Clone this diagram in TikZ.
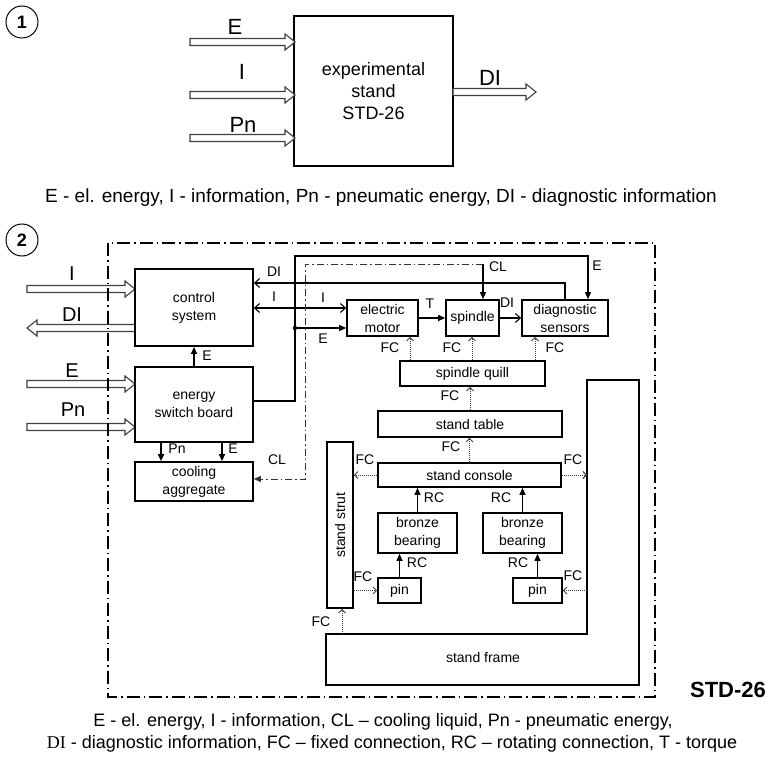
\documentclass[tikz,border=0pt]{standalone}
\usepackage{fontspec}
\setmainfont{Liberation Sans}
\newfontfamily\serifdi{Liberation Serif}
\usetikzlibrary{arrows.meta}
\newcommand{\harrow}[4]{%
  \draw[hollow] (#1,#4-3.5) -- (#2,#4-3.5) -- (#2,#4-8) -- (#3,#4) -- (#2,#4+8) -- (#2,#4+3.5) -- (#1,#4+3.5) -- cycle;}
\begin{document}
\begin{tikzpicture}[x=1pt,y=-1pt,
  box/.style={draw, line width=1.7pt, inner sep=0pt, align=center, font=\fontsize{14}{18}\selectfont},
  lbl/.style={inner sep=0pt, font=\fontsize{14}{16}\selectfont},
  mid/.style={inner sep=0pt, font=\fontsize{20}{22}\selectfont},
  big/.style={inner sep=0pt, font=\fontsize{22}{24}\selectfont},
  circ/.style={draw, circle, line width=1pt, minimum size=32pt, inner sep=0pt, font=\bfseries\fontsize{18}{18}\selectfont},
  farrow/.style={line width=1.1pt, -{Triangle[length=7pt,width=6pt]}},
  oarrow/.style={line width=1.1pt, -{Straight Barb[length=5pt,width=9pt]}},
  darrow/.style={line width=1.1pt, {Straight Barb[length=5pt,width=9pt]}-{Straight Barb[length=5pt,width=9pt]}},
  fc/.style={black!75, line width=0.9pt, dash pattern=on 1pt off 1pt, -{Straight Barb[length=3.5pt,width=7pt]}},
  hollow/.style={draw=black!75, fill=white, line width=1.1pt, line join=miter},
  ddot/.style={line width=1.7pt, dash pattern=on 13pt off 4pt on 1.5pt off 4pt},
  cl/.style={black!80, line width=1pt, dash pattern=on 7pt off 3pt on 1.5pt off 3pt},
  solid frame/.style={line width=1.7pt},
]
\fill[white] (0,0) rectangle (767,765);
\useasboundingbox (0,0) rectangle (767,765);

% ---------- part 1 ----------
\node[circ] (n1) at (22,22) {1};
\node[box, font=\fontsize{18}{22}\selectfont, minimum width=159, minimum height=150] (stand) at (373.5,91) {experimental\\stand\\STD-26};
\harrow{190}{285}{295}{42}
\harrow{190}{285}{295}{95}
\harrow{190}{285}{295}{138}
\harrow{453}{526}{536}{92}
\node[big] (a1) at (235,27) {E};
\node[big] (a2) at (242,72) {I};
\node[big] (a3) at (243,125) {Pn};
\node[big] (a4) at (490,78) {DI};
\node[inner sep=0pt, font=\fontsize{19}{22}\selectfont] (cap1) at (381,198) {E - el. energy, I - information, Pn - pneumatic energy, DI - diagnostic information};

% ---------- part 2 ----------
\node[circ] (n2) at (22,240) {2};
\harrow{27}{125}{135}{289}
\harrow{135}{37}{27}{328}
\harrow{27}{125}{135}{384}
\harrow{27}{125}{135}{427}
\node[mid] (b1) at (72,274) {I};
\node[mid] (b2) at (72,315) {DI};
\node[mid] (b3) at (72,371) {E};
\node[mid] (b4) at (73,410) {Pn};

\draw[ddot] (108,243) rectangle (655,697);
\node[inner sep=0pt, font=\bfseries\fontsize{22}{24}\selectfont] (stdlbl) at (728,690) {STD-26};

\node[box, minimum width=118, minimum height=77] (cs) at (194,307.5) {control\\system};
\node[box, minimum width=118, minimum height=75] (esb) at (194,404.5) {energy\\switch board};
\node[box, minimum width=118, minimum height=39] (ca) at (194,481.5) {cooling\\aggregate};
\node[box, minimum width=71, minimum height=36] (em) at (382.5,318) {electric\\motor};
\node[box, minimum width=53, minimum height=36] (sp) at (472.5,318) {spindle};
\node[box, minimum width=86, minimum height=36] (ds) at (565,318) {diagnostic\\sensors};
\node[box, minimum width=145, minimum height=25] (sq) at (472.5,373.5) {spindle quill};
\node[box, minimum width=184, minimum height=26] (st) at (470,424) {stand table};
\node[box, minimum width=183, minimum height=24] (sc) at (469.5,475) {stand console};
\node[box, minimum width=79, minimum height=40] (bb1) at (417.5,533) {bronze\\bearing};
\node[box, minimum width=79, minimum height=40] (bb2) at (522.5,533) {bronze\\bearing};
\node[box, minimum width=43, minimum height=25] (p1) at (399.5,590.5) {pin};
\node[box, minimum width=49, minimum height=25] (p2) at (537.5,590.5) {pin};
\node[box, minimum width=26, minimum height=166] (ss) at (340,525) {\rotatebox{90}{stand strut}};

% stand frame
\draw[solid frame] (326,634) -- (587,634) -- (587,380) -- (639,380) -- (639,685) -- (326,685) -- cycle;
\coordinate (frIn) at (587,380);
\coordinate (frTop) at (342,634);
\node[lbl] (sflbl) at (483,657) {stand frame};

% energy / control connections
\draw[farrow] (esb.north) -- (cs.south);
\draw[farrow] (esb.south -| 161,0) -- (ca.north -| 161,0);
\draw[farrow] (esb.south -| 222,0) -- (ca.north -| 222,0);
\coordinate (eT1) at (295,256);
\coordinate (eT2) at (588,256);
\coordinate (jE) at (295,328);
\draw[farrow] (esb.east |- 0,401) -| (eT1) -- (eT2) -- (ds.north -| eT2);
\fill (jE) circle (2.2pt);
\draw[farrow] (jE) -- (em.west |- jE);
\draw[oarrow] (ds.north) |- (cs.east |- 0,283);
\draw[darrow] (cs.east |- 0,308) -- (em.west |- 0,308);
\draw[farrow] (em.east) -- (sp.west);
\draw[oarrow] (sp.east) -- (ds.west);

% cooling liquid
\coordinate (clTop) at (483,264);
\coordinate (clC1) at (305,264);
\coordinate (clC2) at (305,479);
\draw[cl, -{Triangle[length=7pt,width=6pt]}] (clTop) -- (clC1) -- (clC2) -- (ca.east |- clC2);
\draw[farrow] (clTop) -- (sp.north -| clTop);

% fixed connections
\draw[fc] (sq.north -| 410,0) -- (em.south -| 410,0);
\draw[fc] (sq.north -| 472,0) -- (sp.south -| 472,0);
\draw[fc] (sq.north -| 535,0) -- (ds.south -| 535,0);
\draw[fc] (st.north) -- (sq.south -| st.north);
\draw[fc] (sc.north) -- (st.south -| sc.north);
\draw[fc] (sc.west) -- (ss.east |- sc.west);
\draw[fc] (sc.east) -- (frIn |- sc.east);
\draw[fc] (ss.east |- p1.west) -- (p1.west);
\draw[fc] (frIn |- p2.east) -- (p2.east);
\draw[fc] (frTop) -- (ss.south -| frTop);

% rotating connections
\draw[farrow] (bb1.north) -- (sc.south -| bb1.north);
\draw[farrow] (bb2.north) -- (sc.south -| bb2.north);
\draw[farrow] (p1.north) -- (bb1.south -| p1.north);
\draw[farrow] (p2.north) -- (bb2.south -| p2.north);

% small labels
\node[lbl] (c1) at (274,272) {DI};
\node[lbl] (c2) at (274,297) {I};
\node[lbl] (c3) at (323,298) {I};
\node[lbl] (c4) at (323,339) {E};
\node[lbl] (c5) at (207,356) {E};
\node[lbl] (c6) at (177,449) {Pn};
\node[lbl] (c7) at (233,449) {E};
\node[lbl] (c8) at (277,460) {CL};
\node[lbl] (c9) at (498,267) {CL};
\node[lbl] (c10) at (597,266) {E};
\node[lbl] (c11) at (430,304) {T};
\node[lbl] (c12) at (507,303) {DI};
\node[lbl] (c13) at (390,348) {FC};
\node[lbl] (c14) at (452,348) {FC};
\node[lbl] (c15) at (555,348) {FC};
\node[lbl] (c16) at (450,396) {FC};
\node[lbl] (c17) at (451,447) {FC};
\node[lbl] (c18) at (365,460) {FC};
\node[lbl] (c19) at (573,460) {FC};
\node[lbl] (c20) at (434,498) {RC};
\node[lbl] (c21) at (501,498) {RC};
\node[lbl] (c22) at (417,563) {RC};
\node[lbl] (c23) at (518,563) {RC};
\node[lbl] (c24) at (363,577) {FC};
\node[lbl] (c25) at (573,576) {FC};
\node[lbl] (c26) at (321,622) {FC};

% caption 2
\node[inner sep=0pt, font=\fontsize{18}{21}\selectfont] (cap2a) at (383,722) {E - el. energy, I - information, CL -- cooling liquid, Pn - pneumatic energy,};
\node[inner sep=0pt, font=\fontsize{18}{21}\selectfont] (cap2b) at (392,744) {{\serifdi DI} - diagnostic information, FC -- fixed connection, RC -- rotating connection, T - torque};
\end{tikzpicture}
\end{document}
